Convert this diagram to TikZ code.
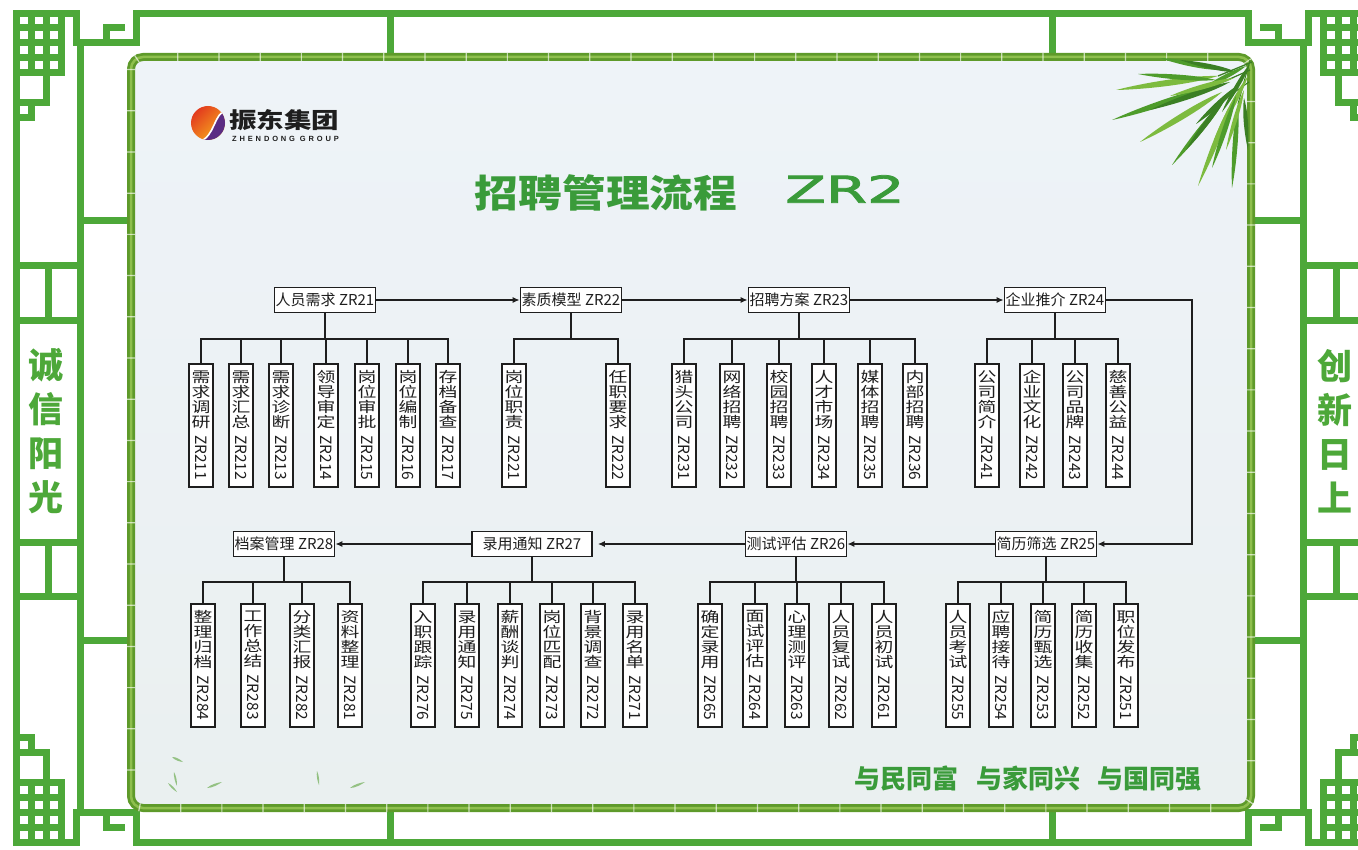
\documentclass[tikz,border=0pt]{standalone}
\usepackage{fontspec}
\setmainfont{Noto Sans CJK SC}
\newfontfamily\cjk{Noto Sans CJK SC}
\newfontfamily\widelat{DejaVu Sans}[FakeBold=2]
\newfontfamily\logolat{Liberation Sans}[LetterSpace=38]
\usetikzlibrary{calc,arrows.meta}

\definecolor{fr}{HTML}{4DA839}
\definecolor{ttl}{HTML}{3A9B3A}
\definecolor{bamA}{HTML}{5E9A2A}
\definecolor{bamB}{HTML}{A3CF5C}
\definecolor{panTop}{HTML}{EEF3F8}
\definecolor{panBot}{HTML}{EAF0F0}
\definecolor{leafA}{HTML}{4E9C2B}
\definecolor{leafB}{HTML}{7DBB3F}
\definecolor{leafC}{HTML}{3B7F24}
\definecolor{logoR}{HTML}{E2381E}
\definecolor{logoY}{HTML}{F8AE1E}
\definecolor{logoP}{HTML}{5B2C83}
\definecolor{ink}{HTML}{1E1E1E}

% horizontally widened glyph
\newcommand\hz[1]{\scalebox{1.3}[1]{#1}}
% vertical label: four characters and a turned code
\newcommand\vlab[5]{\hz{#1}\\\hz{#2}\\\hz{#3}\\\hz{#4}\\[-7pt]\rotatebox{-90}{\fontsize{15.5}{15.5}\selectfont #5}}
% parent -> bus -> children
\newcommand\fan[5]{%
  \draw[link] (#1.south) -- (#1.south |- #2);
  \draw[link] (#3.north |- #2) -- (#4.north |- #2);
  \foreach \c in {#5} \draw[link] (\c.north) -- (\c.north |- #2);}
% a bamboo leaf from #1 to #2
\newcommand\leaf[5]{%
  \fill[#5] (#1) .. controls ($(#1)!0.3!(#2)!#3!90:(#2)$) and ($(#1)!0.75!(#2)!#4!90:(#2)$) .. (#2)
     .. controls ($(#1)!0.75!(#2)!#4!-90:(#2)$) and ($(#1)!0.3!(#2)!#3!-90:(#2)$) .. (#1);}
% lattice knot of one corner (top-left orientation)
\newcommand\cornerknot{%
  \draw[lattice] (16,128) -- (16,13.5) -- (76,13.5) -- (76,43) -- (136,43) -- (136,13.5);
  \draw[lattice] (106,43) -- (106,28) -- (121,28);
  \foreach \x in {31,46,61} \draw[lattice] (\x,13.5) -- (\x,73);
  \foreach \y in {28,43,58,73} \draw[lattice] (16,\y) -- (61,\y);
  \draw[lattice] (46,73) -- (46,103) -- (16,103);
  \draw[lattice] (31,103) -- (31,118) -- (16,118);}

\tikzset{
  lattice/.style={draw=fr, line width=7pt, line cap=rect, line join=miter},
  mainbox/.style={draw=ink, line width=1.7pt, fill=white, inner sep=0pt,
    minimum width=101pt, minimum height=25pt, text=ink, font=\fontsize{15}{16}\selectfont},
  subbox/.style={draw=ink, line width=1.7pt, fill=white, inner sep=0pt, anchor=north,
    minimum width=24pt, minimum height=123pt, align=center, text=ink,
    font=\fontsize{14.5}{15}\selectfont},
  link/.style={draw=ink, line width=1.5pt, line cap=rect},
  flow/.style={draw=ink, line width=1.5pt, -{Latex[length=7pt,width=6pt]}},
  sidetext/.style={text=fr, align=center, font=\fontsize{35}{44}\selectfont\bfseries},
}

\begin{document}
\begin{tikzpicture}[x=1pt,y=-1pt]
\useasboundingbox (0,0) rectangle (1358,850);
\clip (0,0) rectangle (1358,850);
\fill[white] (0,0) rectangle (1358,850);

% ---- green lattice frame ----
\cornerknot
\begin{scope}[shift={(1384,0)},xscale=-1]\cornerknot\end{scope}
\begin{scope}[shift={(0,855.5)},yscale=-1]\cornerknot\end{scope}
\begin{scope}[shift={(1384,855.5)},xscale=-1,yscale=-1]\cornerknot\end{scope}
\draw[lattice] (136,13.5) -- (1248,13.5);
\draw[lattice] (136,842) -- (1248,842);
\draw[lattice] (16,128) -- (16,727.5);
\draw[lattice] (1368,128) -- (1368,727.5);
\draw[lattice] (80.5,43) -- (80.5,812.5);
\draw[lattice] (1303.5,43) -- (1303.5,812.5);
\draw[lattice] (390,13.5) -- (390,55);
\draw[lattice] (1052,13.5) -- (1052,55);
\draw[lattice] (390,810) -- (390,842);
\draw[lattice] (1052,810) -- (1052,842);
\draw[lattice] (80.5,221) -- (128,221);
\draw[lattice] (80.5,640) -- (128,640);
\draw[lattice] (1254,221) -- (1303.5,221);
\draw[lattice] (1254,640) -- (1303.5,640);
\foreach \y in {266,321,542,596} {
  \draw[lattice] (16,\y) -- (80.5,\y);
  \draw[lattice] (1303.5,\y) -- (1368,\y);}
\draw[lattice] (48,266) -- (48,321);
\draw[lattice] (48,542) -- (48,596);
\draw[lattice] (1336,266) -- (1336,321);
\draw[lattice] (1336,542) -- (1336,596);

\node[sidetext] (motL) at (46,431) {诚\\信\\阳\\光};
\node[sidetext] (motR) at (1335,431) {创\\新\\日\\上};

% ---- panel with bamboo rim ----
\shade[top color=panTop, bottom color=panBot, rounded corners=12pt] (131,57) rectangle (1251,808);
\draw[bamA, line width=8pt, rounded corners=12pt] (131,57) rectangle (1251,808);
\draw[bamB, line width=2.5pt, opacity=0.7, rounded corners=12pt] (131,57) rectangle (1251,808);
\draw[white, line width=8pt, opacity=0.65, dash pattern=on 1.2pt off 40pt, rounded corners=12pt] (131,57) rectangle (1251,808);

% ---- bamboo leaves ----
\draw[leafC, line width=1.3pt] (1252,62) -- (1218,76);
\draw[leafC, line width=1.2pt] (1250,70) -- (1214,86);
\draw[leafC, line width=1.1pt] (1249,82) -- (1226,98);
\draw[leafC, line width=1pt] (1250,60) -- (1238,104);
\leaf{1218,76}{1116,90}{5pt}{3pt}{leafB}
\leaf{1214,86}{1112,120}{5pt}{3pt}{leafA}
\leaf{1222,92}{1140,142}{5pt}{3pt}{leafB}
\leaf{1226,98}{1172,165}{4.5pt}{2.5pt}{leafA}
\leaf{1232,102}{1198,186}{4.5pt}{2.5pt}{leafB}
\leaf{1238,104}{1232,188}{4pt}{2.5pt}{leafA}
\leaf{1244,98}{1248,150}{3.5pt}{2pt}{leafC}
\leaf{1222,70}{1160,58}{4pt}{2.5pt}{leafA}
\leaf{1236,72}{1180,60}{4pt}{2pt}{leafC}
\leaf{1240,84}{1196,124}{4pt}{2.5pt}{leafC}
\leaf{1230,82}{1150,110}{4.5pt}{2.5pt}{leafC}
\leaf{1248,76}{1214,140}{4pt}{2.5pt}{leafB}
\leaf{1246,66}{1200,90}{3.5pt}{2pt}{leafA}
\leaf{1228,94}{1186,150}{4pt}{2.5pt}{leafC}
\leaf{1236,96}{1212,168}{4pt}{2.5pt}{leafA}
\leaf{1244,90}{1226,150}{3.5pt}{2pt}{leafB}
\leaf{1216,80}{1138,74}{4pt}{2.5pt}{leafA}
\leaf{1234,78}{1170,96}{4pt}{2.5pt}{leafB}
\leaf{1250,64}{1222,112}{3.5pt}{2pt}{leafC}
% scattered small leaves
\begin{scope}[opacity=0.55]
\leaf{172,757}{183,762}{2pt}{1pt}{leafA}
\leaf{174,772}{177,786}{1.5pt}{1pt}{leafA}
\leaf{168,783}{177,792}{1.5pt}{1pt}{leafA}
\leaf{207,788}{222,782}{2pt}{1pt}{leafA}
\leaf{317,771}{319,785}{1.5pt}{1pt}{leafA}
\leaf{350,788}{365,782}{2pt}{1pt}{leafA}
\end{scope}

% ---- logo ----
\begin{scope}
\clip (208,123) circle (17);
\shade[left color=logoR, right color=logoY, shading angle=45] (190,105) rectangle (226,141);
\fill[logoP] (227,110) .. controls (213,113) and (216,136) .. (199,142) -- (228,142) -- cycle;
\draw[white, line width=1.6pt] (227,110) .. controls (213,113) and (216,136) .. (199,142);
\end{scope}
\node[text=ink, font=\fontsize{22}{22}\selectfont\bfseries] (logoCN) at (284,120) {\scalebox{1.25}[1]{振东集团}};
\node[text=ink, font=\logolat\fontsize{7.5}{8}\selectfont\bfseries, anchor=west, inner sep=0pt] (logoEN1) at (232,138.5) {ZHENDONG};
\node[text=ink, font=\logolat\fontsize{7.5}{8}\selectfont\bfseries, anchor=east, inner sep=0pt] (logoEN2) at (339,138.5) {GROUP};

% ---- title ----
\node[text=ttl, font=\fontsize{38}{38}\selectfont\bfseries] (title) at (606,193) {\scalebox{1.15}[1]{招聘管理流程}};
\node[text=ttl, font=\widelat\fontsize{37}{37}\selectfont, inner sep=0pt] (titleZR) at (845,189)
  {\scalebox{1.6}[1]{ZR2}};

% ---- main flow ----
\node[mainbox] (m21) at (325,300) {人员需求 ZR21};
\node[mainbox] (m22) at (571,300) {素质模型 ZR22};
\node[mainbox] (m23) at (799,300) {招聘方案 ZR23};
\node[mainbox] (m24) at (1055,300) {企业推介 ZR24};
\node[mainbox] (m25) at (1046,544) {简历筛选 ZR25};
\node[mainbox] (m26) at (796,544) {测试评估 ZR26};
\node[mainbox, minimum width=120pt] (m27) at (532,544) {录用通知 ZR27};
\node[mainbox] (m28) at (284,544) {档案管理 ZR28};
\coordinate (turnR) at (1192,300);

\draw[flow] (m21) -- (m22);
\draw[flow] (m22) -- (m23);
\draw[flow] (m23) -- (m24);
\draw[flow] (m24.east) -- (m24.east -| turnR) -- (m25.east -| turnR) -- (m25.east);
\draw[flow] (m25) -- (m26);
\draw[flow, shorten >=5pt] (m26) -- (m27);
\draw[flow] (m27) -- (m28);

% ---- top-row sub items ----
\node[subbox] (c211) at (201,363) {\vlab{需}{求}{调}{研}{ZR211}};
\node[subbox] (c212) at (241,363) {\vlab{需}{求}{汇}{总}{ZR212}};
\node[subbox] (c213) at (281,363) {\vlab{需}{求}{诊}{断}{ZR213}};
\node[subbox] (c214) at (326,363) {\vlab{领}{导}{审}{定}{ZR214}};
\node[subbox] (c215) at (367,363) {\vlab{岗}{位}{审}{批}{ZR215}};
\node[subbox] (c216) at (408,363) {\vlab{岗}{位}{编}{制}{ZR216}};
\node[subbox] (c217) at (448,363) {\vlab{存}{档}{备}{查}{ZR217}};
\node[subbox] (c221) at (514,363) {\vlab{岗}{位}{职}{责}{ZR221}};
\node[subbox] (c222) at (618,363) {\vlab{任}{职}{要}{求}{ZR222}};
\node[subbox] (c231) at (684,363) {\vlab{猎}{头}{公}{司}{ZR231}};
\node[subbox] (c232) at (732,363) {\vlab{网}{络}{招}{聘}{ZR232}};
\node[subbox] (c233) at (779,363) {\vlab{校}{园}{招}{聘}{ZR233}};
\node[subbox] (c234) at (824,363) {\vlab{人}{才}{市}{场}{ZR234}};
\node[subbox] (c235) at (870,363) {\vlab{媒}{体}{招}{聘}{ZR235}};
\node[subbox] (c236) at (915,363) {\vlab{内}{部}{招}{聘}{ZR236}};
\node[subbox] (c241) at (987,363) {\vlab{公}{司}{简}{介}{ZR241}};
\node[subbox] (c242) at (1032,363) {\vlab{企}{业}{文}{化}{ZR242}};
\node[subbox] (c243) at (1075,363) {\vlab{公}{司}{品}{牌}{ZR243}};
\node[subbox] (c244) at (1118,363) {\vlab{慈}{善}{公}{益}{ZR244}};

% ---- bottom-row sub items ----
\node[subbox] (c284) at (203,603) {\vlab{整}{理}{归}{档}{ZR284}};
\node[subbox] (c283) at (253,603) {\vlab{工}{作}{总}{结}{ZR283}};
\node[subbox] (c282) at (302,603) {\vlab{分}{类}{汇}{报}{ZR282}};
\node[subbox] (c281) at (350,603) {\vlab{资}{料}{整}{理}{ZR281}};
\node[subbox] (c276) at (423,603) {\vlab{入}{职}{跟}{踪}{ZR276}};
\node[subbox] (c275) at (467,603) {\vlab{录}{用}{通}{知}{ZR275}};
\node[subbox] (c274) at (510,603) {\vlab{薪}{酬}{谈}{判}{ZR274}};
\node[subbox] (c273) at (552,603) {\vlab{岗}{位}{匹}{配}{ZR273}};
\node[subbox] (c272) at (593,603) {\vlab{背}{景}{调}{查}{ZR272}};
\node[subbox] (c271) at (635,603) {\vlab{录}{用}{名}{单}{ZR271}};
\node[subbox] (c265) at (710,603) {\vlab{确}{定}{录}{用}{ZR265}};
\node[subbox] (c264) at (755,603) {\vlab{面}{试}{评}{估}{ZR264}};
\node[subbox] (c263) at (797,603) {\vlab{心}{理}{测}{评}{ZR263}};
\node[subbox] (c262) at (841,603) {\vlab{人}{员}{复}{试}{ZR262}};
\node[subbox] (c261) at (884,603) {\vlab{人}{员}{初}{试}{ZR261}};
\node[subbox] (c255) at (958,603) {\vlab{人}{员}{考}{试}{ZR255}};
\node[subbox] (c254) at (1001,603) {\vlab{应}{聘}{接}{待}{ZR254}};
\node[subbox] (c253) at (1043,603) {\vlab{简}{历}{甄}{选}{ZR253}};
\node[subbox] (c252) at (1084,603) {\vlab{简}{历}{收}{集}{ZR252}};
\node[subbox] (c251) at (1126,603) {\vlab{职}{位}{发}{布}{ZR251}};

% ---- fan-out connectors ----
\coordinate (busT) at (0,339);
\coordinate (busB) at (0,582);
\fan{m21}{busT}{c211}{c217}{c211,c212,c213,c214,c215,c216,c217}
\fan{m22}{busT}{c221}{c222}{c221,c222}
\fan{m23}{busT}{c231}{c236}{c231,c232,c233,c234,c235,c236}
\fan{m24}{busT}{c241}{c244}{c241,c242,c243,c244}
\fan{m28}{busB}{c284}{c281}{c284,c283,c282,c281}
\fan{m27}{busB}{c276}{c271}{c276,c275,c274,c273,c272,c271}
\fan{m26}{busB}{c265}{c261}{c265,c264,c263,c262,c261}
\fan{m25}{busB}{c255}{c251}{c255,c254,c253,c252,c251}

% ---- slogan ----
\node[text=ttl, font=\fontsize{26}{26}\selectfont\bfseries] (slogan) at (1028,779)
  {与民同富\hspace{18pt}与家同兴\hspace{18pt}与国同强};
\end{tikzpicture}
\end{document}
